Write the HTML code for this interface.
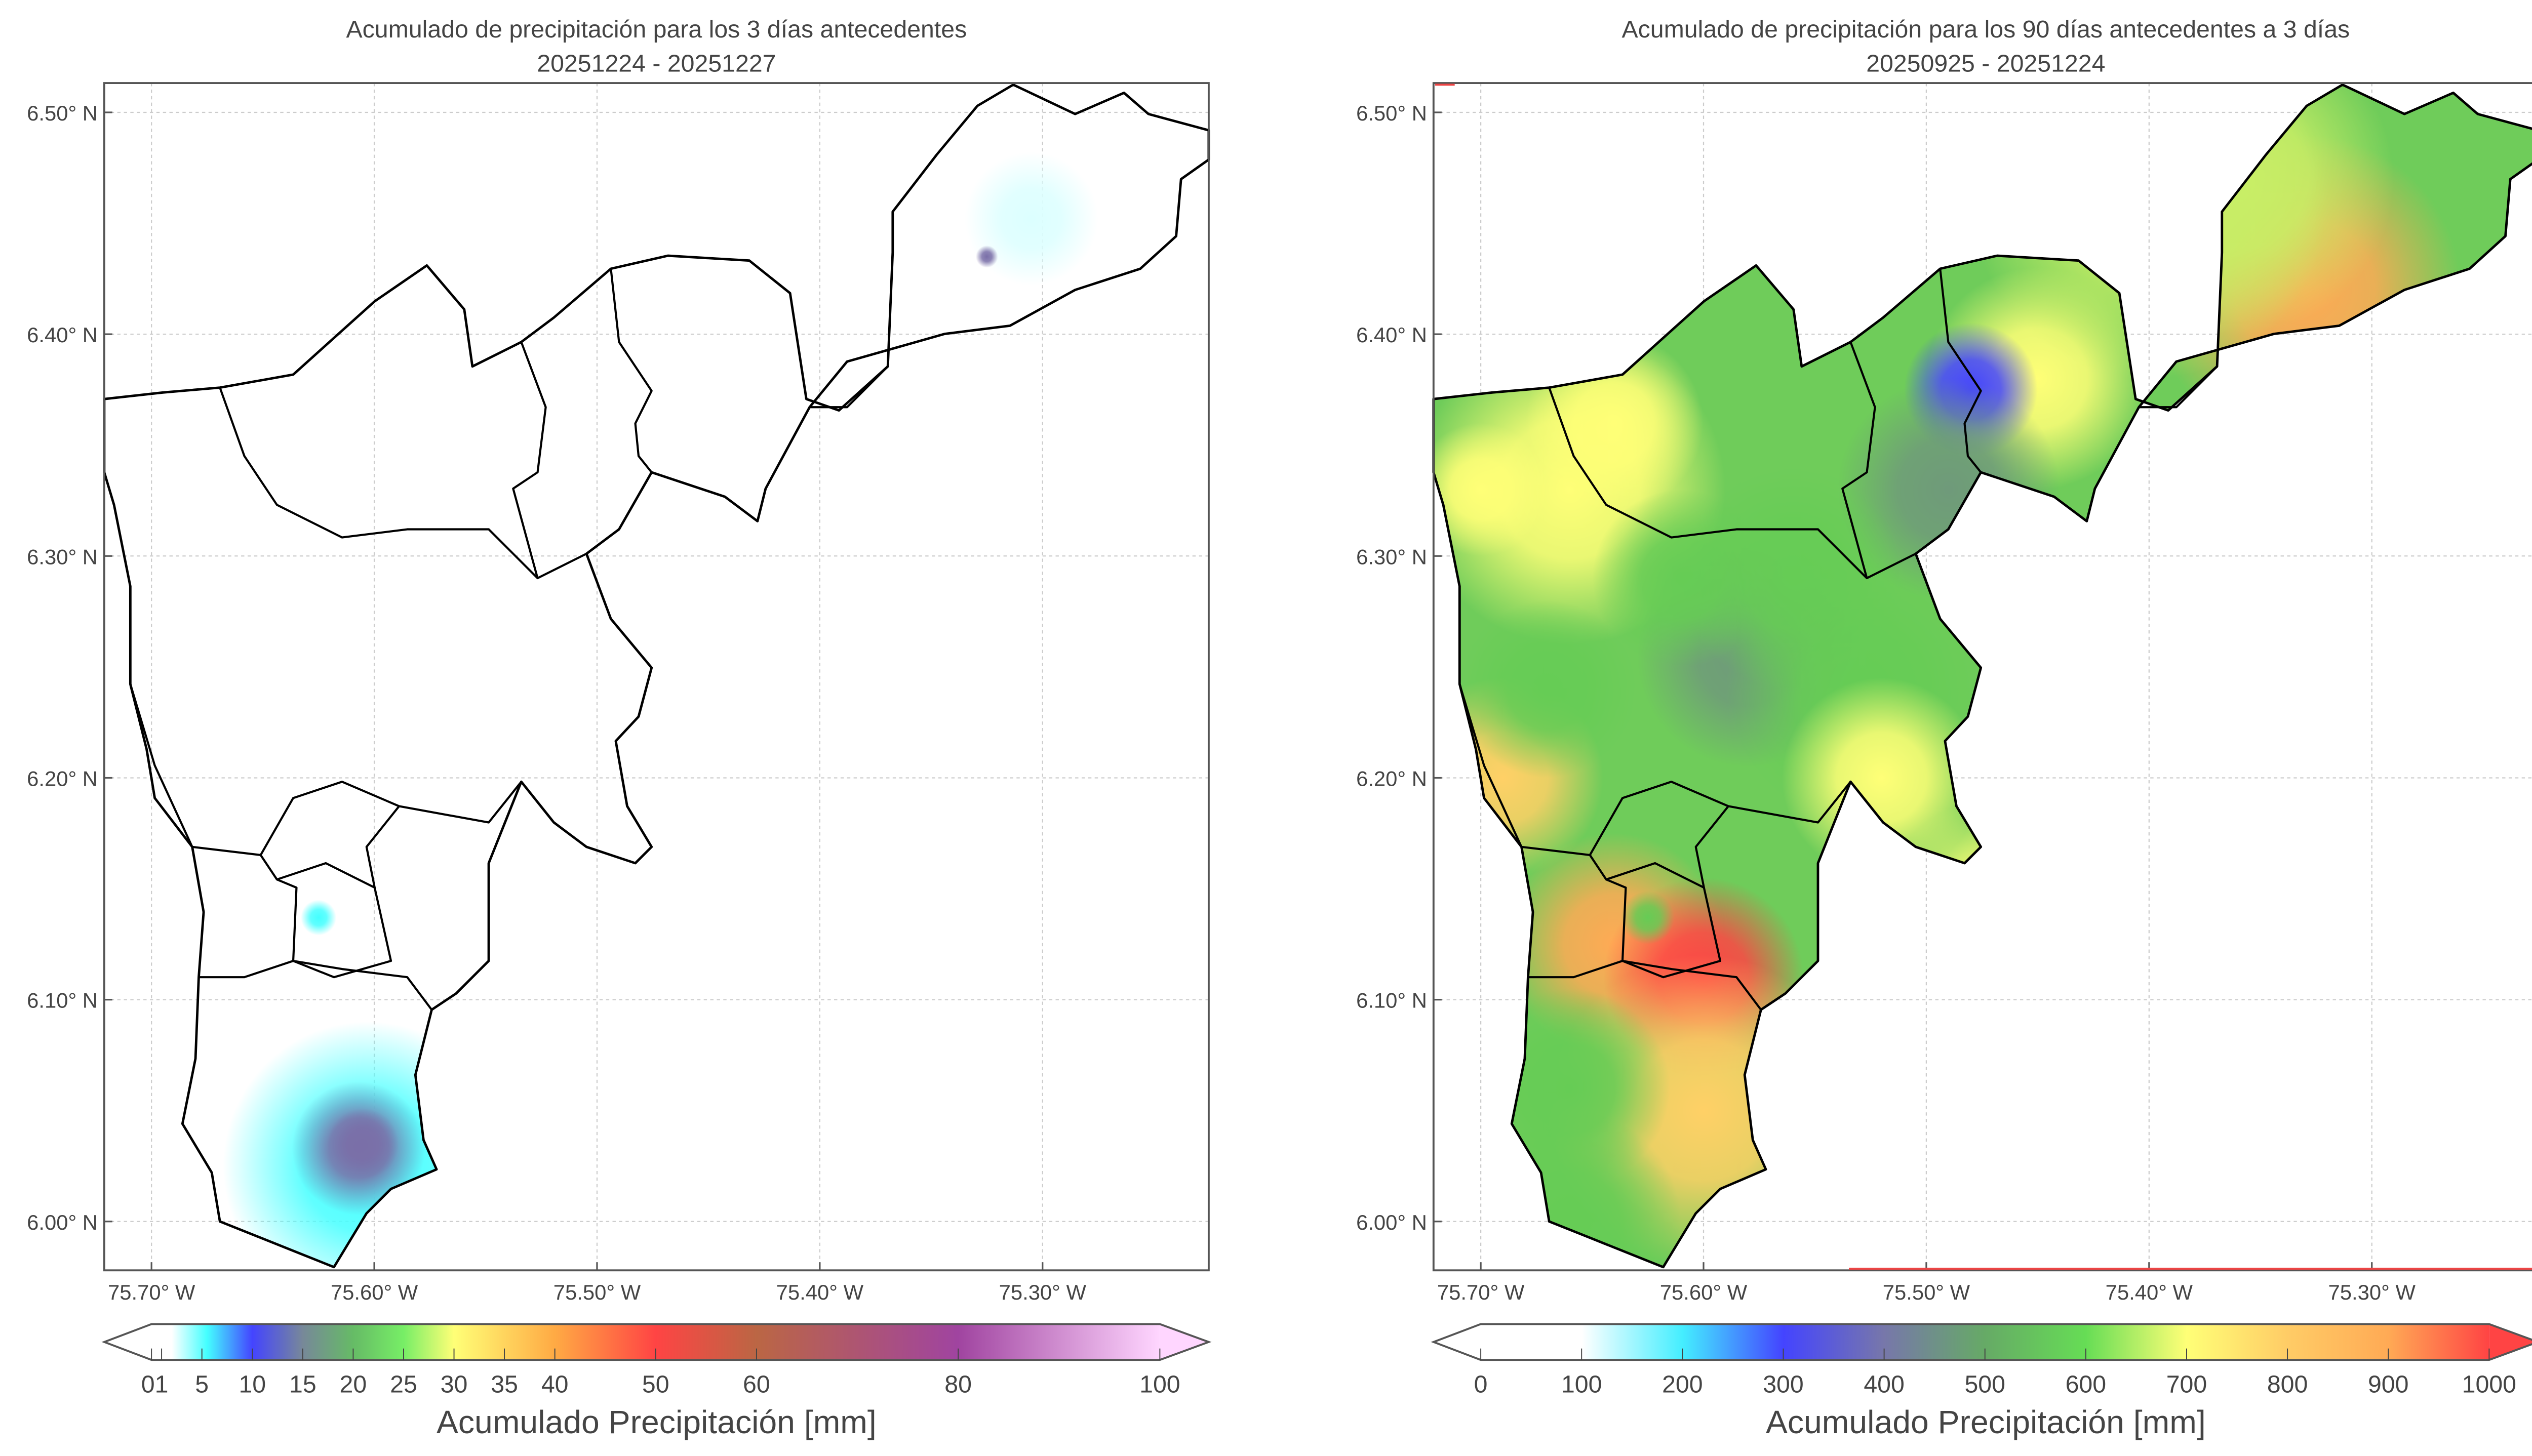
<!DOCTYPE html>
<html><head><meta charset="utf-8">
<style>
html,body{margin:0;padding:0;background:#fff;}
svg{display:block;}
text{font-family:"Liberation Sans",sans-serif;fill:#444;}
</style></head>
<body>
<svg id="fig" xmlns="http://www.w3.org/2000/svg" width="5044" height="2876" viewBox="0 0 1568 894" preserveAspectRatio="none">
<defs>
<linearGradient id="cbL" x1="0" x2="1" y1="0" y2="0">
<stop offset="0" stop-color="#ffffff"/><stop offset="0.02" stop-color="#ffffff"/>
<stop offset="0.055" stop-color="#44ffff"/><stop offset="0.1" stop-color="#4444ff"/>
<stop offset="0.15" stop-color="#778899"/><stop offset="0.2" stop-color="#66bb66"/>
<stop offset="0.25" stop-color="#77ee66"/><stop offset="0.3" stop-color="#ffff77"/>
<stop offset="0.4" stop-color="#ffaa44"/><stop offset="0.5" stop-color="#ff4444"/>
<stop offset="0.6" stop-color="#bb6644"/><stop offset="0.8" stop-color="#a044a0"/>
<stop offset="1" stop-color="#ffd6ff"/></linearGradient>
<linearGradient id="cbR" x1="0" x2="1" y1="0" y2="0">
<stop offset="0" stop-color="#ffffff"/><stop offset="0.1" stop-color="#ffffff"/>
<stop offset="0.2" stop-color="#44eeff"/><stop offset="0.3" stop-color="#4444ff"/>
<stop offset="0.4" stop-color="#7777aa"/><stop offset="0.5" stop-color="#66aa66"/>
<stop offset="0.6" stop-color="#66dd55"/><stop offset="0.7" stop-color="#ffff77"/>
<stop offset="0.8" stop-color="#ffcc66"/><stop offset="0.9" stop-color="#ffaa55"/>
<stop offset="1" stop-color="#ff4444"/></linearGradient>
</defs>
<g id="root"></g>
</svg>
<script>
// ---- data ----
const lonTicks = [75.70, 75.60, 75.50, 75.40, 75.30];
const latTicks = [6.50, 6.40, 6.30, 6.20, 6.10, 6.00];
const cbLeftTicks = [0, 1, 5, 10, 15, 20, 25, 30, 35, 40, 50, 60, 80, 100];
const cbLeftLabels = ["0", "1", "5", "10", "15", "20", "25", "30", "35", "40", "50", "60", "80", "100"];
const cbRightTicks = [0, 100, 200, 300, 400, 500, 600, 700, 800, 900, 1000];
// left blobs
const blobLon3 = [75.305, 75.325, 75.625, 75.603, 75.607, 75.605];
const blobLat3 = [6.452, 6.435, 6.137, 6.025, 6.033, 6.035];
const blobVal3 = [1.5, 12, 5, 4, 12, 15];
const blobRad3 = [0.03, 0.005, 0.008, 0.065, 0.03, 0.016];
// right blobs
const blobLon90 = [75.66, 75.64, 75.45, 75.33, 75.40, 75.48, 75.49, 75.58, 75.53, 75.69, 75.64, 75.60, 75.60, 75.66, 75.47, 75.52, 75.56, 75.61, 75.36, 75.67, 75.625, 75.70, 75.66];
const blobLat90 = [6.33, 6.36, 6.38, 6.42, 6.46, 6.375, 6.33, 6.255, 6.24, 6.20, 6.125, 6.11, 6.05, 6.06, 6.14, 6.20, 6.29, 6.29, 6.47, 6.24, 6.137, 6.33, 6.00];
const blobVal90 = [700, 690, 700, 820, 660, 300, 450, 430, 540, 800, 860, 950, 800, 500, 710, 700, 560, 500, 650, 520, 500, 690, 580];
const blobRad90 = [0.07, 0.04, 0.05, 0.07, 0.08, 0.03, 0.05, 0.05, 0.06, 0.045, 0.05, 0.045, 0.07, 0.045, 0.05, 0.045, 0.05, 0.04, 0.07, 0.04, 0.012, 0.03, 0.05];

const NS = "http://www.w3.org/2000/svg";
const root = document.getElementById('root');
const defs = document.querySelector('defs');
function el(tag, attrs, parent) {
  const e = document.createElementNS(NS, tag);
  for (const k in attrs) e.setAttribute(k, attrs[k]);
  (parent || root).appendChild(e);
  return e;
}
const AX = [{x0:64, x1:742}, {x0:880, x1:1558}];
const Y0 = 51, Y1 = 780;
function xScale(p, w) { return AX[p].x0 + 29 + (75.70 - w) * 1367.5; }
function yScale(lat) { return 69 + (6.50 - lat) * 1362; }

const outline = [[64,245],[100,241],[135,238],[180,230],[230,185],[262,163],[285,190],[290,225],[320,210],[340,195],[375,165],[410,157],[460,160],[485,180],[495,245],[515,252],[545,225],[548,155],[548,130],[575,95],[600,65],[622,52],[660,70],[690,57],[705,70],[742,80],[742,98],[725,110],[722,145],[700,165],[660,178],[620,200],[580,205],[520,222],[497,250],[470,300],[465,320],[445,305],[400,290],[380,325],[360,340],[375,380],[400,410],[392,440],[378,455],[385,495],[400,520],[390,530],[360,520],[340,505],[320,480],[300,530],[300,590],[280,610],[265,620],[255,660],[260,700],[268,718],[240,730],[225,745],[205,778],[185,770],[160,760],[135,750],[130,720],[112,690],[120,650],[122,600],[125,560],[118,520],[95,490],[90,460],[80,420],[80,360],[70,310],[64,290]];
const inner = [
 [[135,238],[150,280],[170,310],[210,330],[250,325],[300,325],[330,355],[360,340]],
 [[320,210],[335,250],[330,290],[315,300],[330,355]],
 [[375,165],[380,210],[400,240],[390,260],[392,280],[400,290]],
 [[545,225],[520,250],[497,250]],
 [[80,420],[95,470],[118,520],[160,525],[180,490],[210,480],[245,495],[300,505],[320,480]],
 [[160,525],[170,540],[200,530],[230,545],[240,590],[205,600],[180,590],[182,545],[170,540]],
 [[245,495],[225,520],[230,545]],
 [[122,600],[150,600],[180,590],[210,595],[250,600],[265,620]]
];
function pts(arr, dx) { return arr.map(p => (p[0]+dx)+','+p[1]).join(' '); }

function cmapL(v){const s=[[0,'#ffffff'],[2,'#dcffff'],[5,'#44ffff'],[10,'#4444ff'],[15,'#7a6fa8'],[20,'#66bb66'],[100,'#ffd6ff']];for(let i=1;i<s.length;i++) if(v<=s[i][0]) return s[i][1]; return '#ffd6ff';}
function cmapR(v){const s=[[100,'#ffffff'],[200,'#44eeff'],[300,'#4444ff'],[400,'#7777aa'],[480,'#6f9a7a'],[600,'#66cc55'],[680,'#c8ee66'],[720,'#ffff77'],[800,'#ffd066'],[900,'#ffaa55'],[1000,'#ff4444']];for(let i=0;i<s.length;i++) if(v<=s[i][0]) return s[i][1]; return '#ff4444';}

let gid = 0;
function blob(parent, cx, cy, r, color) {
  const id = 'rg' + (gid++);
  const rg = el('radialGradient', {id:id}, defs);
  el('stop', {offset:'0', 'stop-color':color, 'stop-opacity':'1'}, rg);
  el('stop', {offset:'0.45', 'stop-color':color, 'stop-opacity':'0.85'}, rg);
  el('stop', {offset:'1', 'stop-color':color, 'stop-opacity':'0'}, rg);
  return el('circle', {cx:cx, cy:cy, r:r, fill:'url(#'+id+')'}, parent);
}

const titles = [["Acumulado de precipitación para los 3 días antecedentes","20251224 - 20251227"],["Acumulado de precipitación para los 90 días antecedentes a 3 días","20250925 - 20251224"]];

for (let p = 0; p < 2; p++) {
  const dx = p * 816, x0 = AX[p].x0, x1 = AX[p].x1;
  const g = el('g', {});
  
  
  const cx = (x0 + x1) / 2;
  const t1 = el('text', {x:cx, y:23, 'text-anchor':'middle', 'font-size':15}, g); t1.textContent = titles[p][0];
  
  
  const t2 = el('text', {x:cx, y:44, 'text-anchor':'middle', 'font-size':15}, g); t2.textContent = titles[p][1];
  
  
  lonTicks.forEach(w => { const x = xScale(p, w); el('line', {x1:x, x2:x, y1:Y0, y2:Y1, stroke:'#ccc', 'stroke-width':0.7, 'stroke-dasharray':'2,2'}, g);
    el('line', {x1:x, x2:x, y1:Y1-5, y2:Y1, stroke:'#555', 'stroke-width':1}, g);
    const tl = el('text', {x:x, y:798, 'text-anchor':'middle', 'font-size':13}, g); tl.textContent = w.toFixed(2)+'° W';
    
     });
  latTicks.forEach(l => { const y = yScale(l); el('line', {x1:x0, x2:x1, y1:y, y2:y, stroke:'#ccc', 'stroke-width':0.7, 'stroke-dasharray':'2,2'}, g);
    el('line', {x1:x0, x2:x0+5, y1:y, y2:y, stroke:'#555', 'stroke-width':1}, g);
    const tl = el('text', {x:x0-4, y:y+5, 'text-anchor':'end', 'font-size':13}, g); tl.textContent = l.toFixed(2)+'° N';
    
     });
  const cp = el('clipPath', {id:'clip'+p}, defs);
  el('polygon', {points: pts(outline, dx)}, cp);
  const fillG = el('g', {'clip-path':'url(#clip'+p+')'}, g);
  
  
  if (p === 1) {
    el('rect', {x:x0, y:Y0, width:x1-x0, height:Y1-Y0, fill:'#6fcc5a'}, fillG);
    for (let i = 0; i < blobLon90.length; i++) {
      const c = blob(fillG, xScale(1, blobLon90[i]), yScale(blobLat90[i]), blobRad90[i]*1365, cmapR(blobVal90[i]));
      
      
    }
  } else {
    for (let i = 0; i < blobLon3.length; i++) {
      const c = blob(fillG, xScale(0, blobLon3[i]), yScale(blobLat3[i]), blobRad3[i]*1365, cmapL(blobVal3[i]));
      
      
    }
  }
  const ol = el('polygon', {points: pts(outline, dx), fill:'none', stroke:'#000', 'stroke-width':1.5, 'stroke-linejoin':'round'}, g);
  
  
  inner.forEach(b => { const pl = el('polyline', {points: pts(b, dx), fill:'none', stroke:'#000', 'stroke-width':1.3, 'stroke-linejoin':'round'}, g);
    
     });
  el('rect', {x:x0, y:Y0, width:x1-x0, height:Y1-Y0, fill:'none', stroke:'#555', 'stroke-width':1.2}, g);
  if (p === 1) { el('line', {x1:1135, x2:1558, y1:779, y2:779, stroke:'#e44', 'stroke-width':1.2}, g); el('line', {x1:881, x2:893, y1:52, y2:52, stroke:'#e44', 'stroke-width':1.2}, g); }
  const cb = el('g', {}, g);
  
  
  const ra = x0 + 29, rb = x1 - 30, cy0 = 813, cy1 = 835, cm = (cy0+cy1)/2;
  el('polygon', {points:`${x0},${cm} ${ra},${cy0} ${ra},${cy1}`, fill:'#fff'}, cb);
  el('polygon', {points:`${rb},${cy0} ${x1},${cm} ${rb},${cy1}`, fill: p ? '#ff4444' : '#ffd6ff'}, cb);
  el('rect', {x:ra, y:cy0, width:rb-ra, height:cy1-cy0, fill: p ? 'url(#cbR)' : 'url(#cbL)'}, cb);
  el('polygon', {points:`${x0},${cm} ${ra},${cy0} ${rb},${cy0} ${x1},${cm} ${rb},${cy1} ${ra},${cy1}`, fill:'none', stroke:'#555', 'stroke-width':1.2}, cb);
  const ticks = p ? cbRightTicks : cbLeftTicks;
  const vmax = p ? 1000 : 100;
  ticks.forEach((v, i) => {
    const x = ra + (v / vmax) * (rb - ra);
    el('line', {x1:x, x2:x, y1:cy1-7, y2:cy1, stroke:'#444', 'stroke-width':0.6}, cb);
    let lab = p ? String(v) : cbLeftLabels[i];
    let xx = x;
    if (!p && v === 0) { lab = '01'; xx = x + 2; }
    if (!p && v === 1) return;
    const tl = el('text', {x:xx, y:855, 'text-anchor':'middle', 'font-size':15}, cb); tl.textContent = lab;
    
    
  });
  const ct = el('text', {x:cx, y:880, 'text-anchor':'middle', 'font-size':20}, cb); ct.textContent = 'Acumulado Precipitación [mm]';
  
  
}
</script>
</body></html>
